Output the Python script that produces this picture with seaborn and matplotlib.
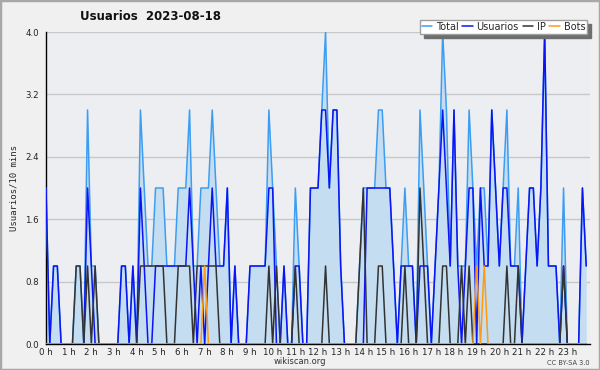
import numpy as np
import pandas as pd
import matplotlib
matplotlib.use('Agg')
import matplotlib.pyplot as plt
from matplotlib.patches import Rectangle
from matplotlib.lines import Line2D
from matplotlib.ticker import MultipleLocator, FixedLocator
import seaborn as sns

# ---- datos: un valor cada 10 minutos (144 puntos), una fila por hora ----
usuarios = [
    2, 0, 1, 1, 0, 0,   0, 0, 0, 0, 0, 2,   1, 0, 0, 0, 0, 0,   0, 0, 1, 1, 0, 1,
    0, 2, 1, 0, 0, 1,   1, 1, 1, 1, 1, 1,   1, 1, 2, 1, 0, 1,   0, 1, 2, 1, 1, 1,
    2, 0, 1, 0, 0, 0,   1, 1, 1, 1, 1, 2,   2, 0, 0, 1, 0, 0,   1, 1, 0, 0, 2, 2,
    2, 3, 3, 2, 3, 3,   1, 0, 0, 0, 0, 0,   0, 2, 2, 2, 2, 2,   2, 2, 1, 0, 1, 1,
    1, 1, 0, 1, 1, 1,   0, 1, 2, 3, 2, 1,   3, 1, 0, 1, 2, 2,   0, 2, 1, 1, 3, 2,
    1, 2, 2, 1, 1, 1,   0, 1, 2, 2, 1, 2,   4, 1, 1, 1, 0, 1,   0, 0, 0, 0, 2, 1,
]
ip = [
    0, 0, 0, 0, 0, 0,   0, 0, 1, 1, 0, 1,   0, 1, 0, 0, 0, 0,   0, 0, 0, 0, 0, 0,
    0, 1, 1, 1, 1, 1,   1, 1, 0, 0, 0, 1,   1, 1, 1, 0, 1, 1,   1, 1, 1, 1, 0, 0,
    0, 0, 0, 0, 0, 0,   0, 0, 0, 0, 0, 1,   0, 1, 0, 0, 0, 0,   1, 0, 0, 0, 0, 0,
    0, 0, 1, 0, 0, 0,   0, 0, 0, 0, 0, 1,   2, 0, 0, 0, 1, 1,   0, 0, 0, 0, 0, 1,
    0, 0, 0, 2, 1, 0,   0, 0, 0, 1, 1, 0,   0, 0, 1, 0, 1, 0,   0, 0, 0, 0, 0, 0,
    0, 0, 1, 0, 0, 1,   0, 0, 0, 0, 0, 0,   0, 0, 0, 0, 0, 1,   0, 0, 0, 0, 0, 0,
]
bots = [
    0, 0, 0, 0, 0, 0,   0, 0, 0, 0, 0, 0,   0, 0, 0, 0, 0, 0,   0, 0, 0, 0, 0, 0,
    0, 0, 0, 0, 0, 0,   0, 0, 0, 0, 0, 0,   0, 0, 0, 0, 0, 0,   1, 0, 0, 0, 0, 0,
    0, 0, 0, 0, 0, 0,   0, 0, 0, 0, 0, 0,   0, 0, 0, 0, 0, 0,   0, 0, 0, 0, 0, 0,
    0, 0, 0, 0, 0, 0,   0, 0, 0, 0, 0, 0,   0, 0, 0, 0, 0, 0,   0, 0, 0, 0, 0, 0,
    0, 0, 0, 0, 0, 0,   0, 0, 0, 0, 0, 0,   0, 0, 0, 0, 0, 0,   1, 0, 1, 0, 0, 0,
    0, 0, 0, 0, 0, 0,   0, 0, 0, 0, 0, 0,   0, 0, 0, 0, 0, 0,   0, 0, 0, 0, 0, 0,
]
total = [
    2, 0, 1, 1, 0, 0,   0, 0, 1, 1, 0, 3,   1, 1, 0, 0, 0, 0,   0, 0, 1, 1, 0, 1,
    0, 3, 2, 1, 1, 2,   2, 2, 1, 1, 1, 2,   2, 2, 3, 1, 1, 2,   2, 2, 3, 2, 1, 1,
    2, 0, 1, 0, 0, 0,   1, 1, 1, 1, 1, 3,   2, 1, 0, 1, 0, 0,   2, 1, 0, 0, 2, 2,
    2, 3, 4, 2, 3, 3,   1, 0, 0, 0, 0, 1,   2, 2, 2, 2, 3, 3,   2, 2, 1, 0, 1, 2,
    1, 1, 0, 3, 2, 1,   0, 1, 2, 4, 3, 1,   3, 1, 1, 1, 3, 2,   1, 2, 2, 1, 3, 2,
    1, 2, 3, 1, 1, 2,   0, 1, 2, 2, 1, 2,   4, 1, 1, 1, 0, 2,   0, 0, 0, 0, 2, 1,
]

series = ['Total', 'Usuarios', 'IP', 'Bots']
colores = {'Total': '#3d9df2', 'Usuarios': '#0a14f5', 'IP': '#333333', 'Bots': '#ff9a14'}
hour_labels = [f'{h} h' for h in range(24)]
y_labels = ['0.0', '0.8', '1.6', '2.4', '3.2', '4.0']

hora = np.arange(len(total)) / 6.0
df = pd.DataFrame({'hora': hora, 'Total': total, 'Usuarios': usuarios, 'IP': ip, 'Bots': bots})
df_long = df.melt(id_vars='hora', value_vars=series, var_name='serie', value_name='valor')

sns.set_style('white')
plt.rcParams['font.family'] = ['DejaVu Sans']

fig = plt.figure(figsize=(6.0, 3.7), dpi=100)
fig.patch.set_facecolor('#f0f0f0')
fig.patches.append(Rectangle((0, 0), 1, 1, transform=fig.transFigure, fill=False,
                             edgecolor='#a8a8a8', linewidth=2.5))

ax = fig.add_axes([46 / 600, 26 / 370, 544 / 600, 312 / 370])
ax.set_facecolor('#eceef1')

# área del total
ax.fill_between(df['hora'], 0, df['Total'], color='#c5ddf0', linewidth=0, zorder=1)

sns.lineplot(data=df_long, x='hora', y='valor', hue='serie', hue_order=series,
             palette=colores, estimator=None, sort=False, linewidth=1.1,
             legend=False, ax=ax, zorder=3)

ax.set_xlim(0, 24)
ax.set_ylim(0, 4.0)

# rejilla horizontal
for v in [0.8, 1.6, 2.4, 3.2, 4.0]:
    ax.axhline(v, color='#c8c8c8', linewidth=1.0, zorder=0.5)

for s in ['top', 'right']:
    ax.spines[s].set_visible(False)
for s in ['left', 'bottom']:
    ax.spines[s].set_color('black')
    ax.spines[s].set_linewidth(1.0)

ax.xaxis.set_major_locator(FixedLocator(range(24)))
ax.set_xticklabels(hour_labels)
ax.xaxis.set_minor_locator(MultipleLocator(1 / 6))
ax.yaxis.set_major_locator(FixedLocator([0, 0.8, 1.6, 2.4, 3.2, 4.0]))
ax.set_yticklabels(y_labels)
ax.yaxis.set_minor_locator(MultipleLocator(0.2))
ax.tick_params(axis='x', which='both', direction='out', length=2.5, width=0.8,
               color='black', labelsize=6.2, labelcolor='#222222', pad=0.3)
ax.tick_params(axis='y', which='both', direction='out', length=4, width=0.8,
               color='black', labelsize=6.2, labelcolor='#222222', pad=1)
ax.set_xlabel('')
ax.set_ylabel('Usuarios/10 mins', family='DejaVu Sans Mono', fontsize=6.5, labelpad=5)

fig.text(150 / 600, 1 - 17 / 370, 'Usuarios  2023-08-18', ha='center', va='center',
         fontsize=8.5, fontweight='bold', color='#111111')
fig.text(300 / 600, 1 - 362 / 370, 'wikiscan.org', ha='center', va='center',
         fontsize=6, color='#333333')
fig.text(590 / 600, 1 - 363 / 370, 'CC BY-SA 3.0', ha='right', va='center',
         fontsize=4.8, color='#444444')

handles = [Line2D([0], [0], color=colores[s], linewidth=1.1) for s in series]
leg = fig.legend(handles, series, loc='upper right', bbox_to_anchor=(592 / 600, 1 - 15 / 370),
                 ncol=4, fontsize=7, frameon=True, fancybox=False, handlelength=1.1,
                 handletextpad=0.35, columnspacing=0.4, borderpad=0.2,
                 shadow={'ox': 3, 'oy': -3, 'color': '#6e6e6e', 'alpha': 1.0})
leg.get_frame().set_edgecolor('#a0a0a0')
leg.get_frame().set_facecolor('white')
leg.get_frame().set_linewidth(1.0)

fig.savefig('out.png', dpi=100, facecolor=fig.get_facecolor())
